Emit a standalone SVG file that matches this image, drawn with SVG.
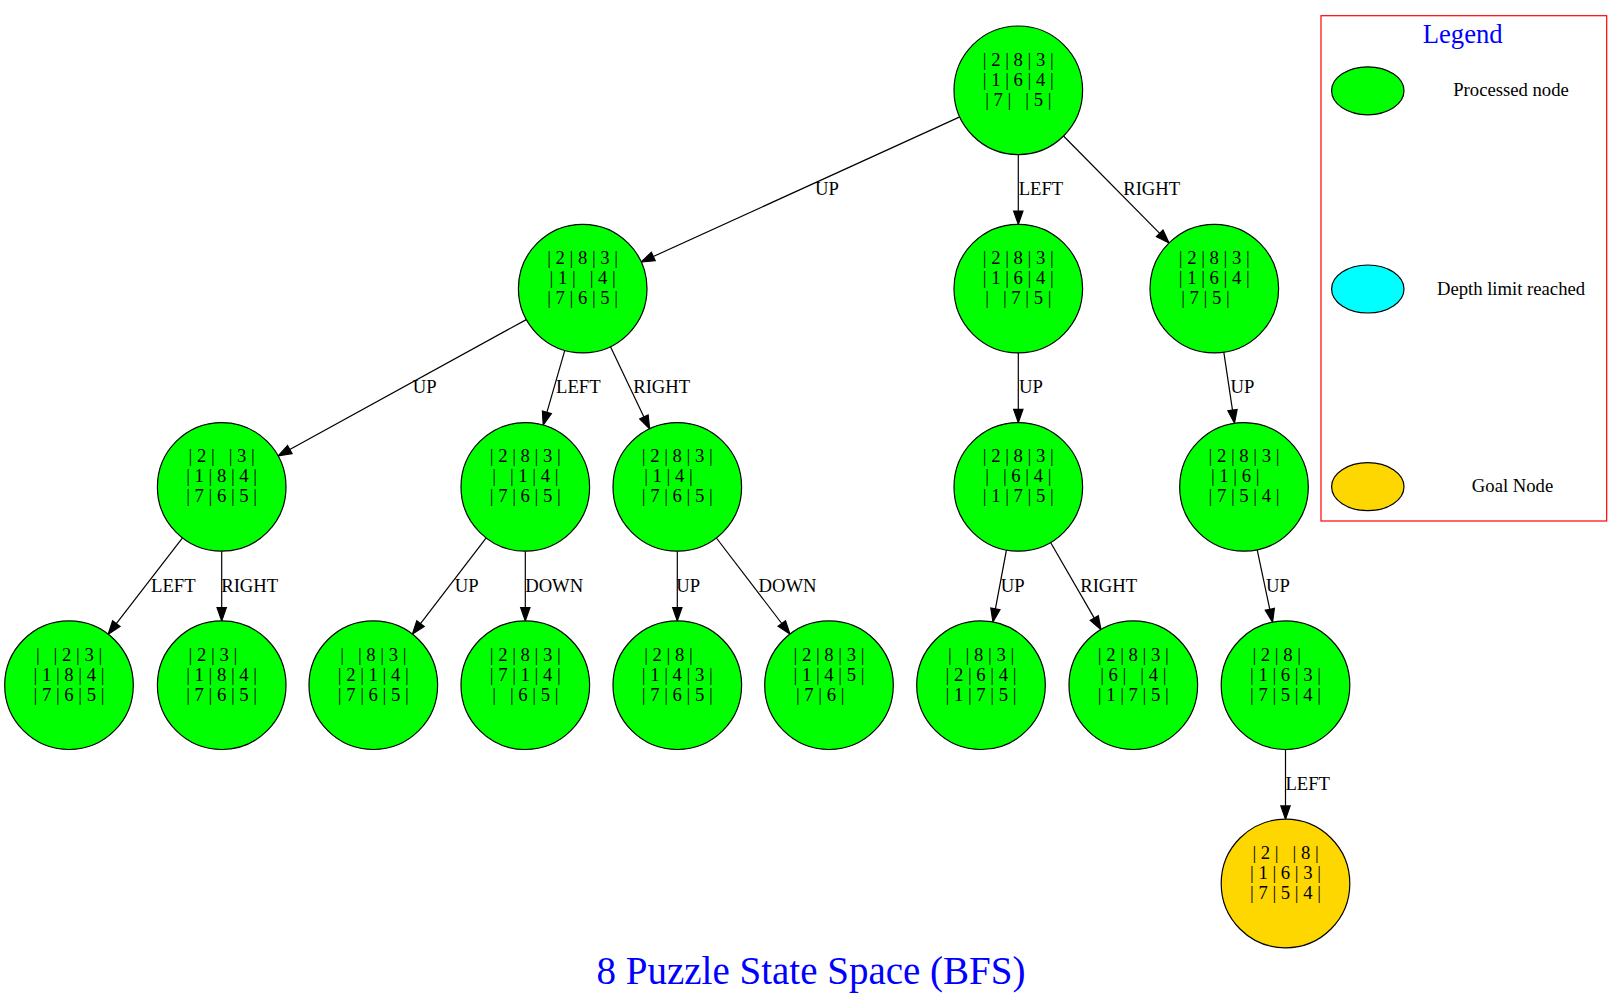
<svg xmlns="http://www.w3.org/2000/svg" width="1623" height="1008" viewBox="0 0 1623 1008" xml:space="preserve">
<style>
text { font-family: "Liberation Serif", "Times New Roman", serif; font-size: 18.67px; fill: #000; white-space: pre; }
.node circle { stroke: #000; stroke-width: 1.2; }
.proc { fill: #00ff00; }
.goal { fill: #ffd700; }
.depth { fill: #00ffff; }
.edges line { stroke: #000; stroke-width: 1.2; }
.edges text { text-anchor: middle; }
.leg ellipse { stroke: #000; stroke-width: 1.2; }
.leg text { text-anchor: middle; }
</style>
<defs>
<marker id="arr" markerUnits="userSpaceOnUse" markerWidth="16" markerHeight="12" refX="0" refY="6" orient="auto" overflow="visible">
<path d="M0,1.33 L13.33,6 L0,10.67 Z" fill="#000" stroke="#000" stroke-width="1.2"/>
</marker>
</defs>
<rect x="0" y="0" width="1623" height="1008" fill="#fff"/>
<g id="edges" class="edges">
<line x1="959.8" y1="116.9" x2="653.3" y2="256.5" marker-end="url(#arr)"/>
<line x1="1018.3" y1="154.6" x2="1018.3" y2="211.0" marker-end="url(#arr)"/>
<line x1="1063.5" y1="136.0" x2="1159.7" y2="233.4" marker-end="url(#arr)"/>
<line x1="526.3" y1="319.6" x2="289.8" y2="449.5" marker-end="url(#arr)"/>
<line x1="564.8" y1="350.4" x2="546.9" y2="412.3" marker-end="url(#arr)"/>
<line x1="610.4" y1="346.6" x2="643.9" y2="416.9" marker-end="url(#arr)"/>
<line x1="1018.3" y1="352.9" x2="1018.3" y2="409.3" marker-end="url(#arr)"/>
<line x1="1223.8" y1="352.2" x2="1232.5" y2="410.1" marker-end="url(#arr)"/>
<line x1="182.5" y1="537.8" x2="116.3" y2="623.7" marker-end="url(#arr)"/>
<line x1="221.7" y1="551.2" x2="221.7" y2="607.6" marker-end="url(#arr)"/>
<line x1="486.2" y1="537.9" x2="420.5" y2="623.6" marker-end="url(#arr)"/>
<line x1="525.3" y1="551.2" x2="525.3" y2="607.6" marker-end="url(#arr)"/>
<line x1="677.3" y1="551.2" x2="677.3" y2="607.6" marker-end="url(#arr)"/>
<line x1="716.4" y1="538.0" x2="781.8" y2="623.5" marker-end="url(#arr)"/>
<line x1="1006.4" y1="550.1" x2="995.4" y2="608.9" marker-end="url(#arr)"/>
<line x1="1050.6" y1="542.5" x2="1094.3" y2="618.1" marker-end="url(#arr)"/>
<line x1="1257.2" y1="549.8" x2="1269.8" y2="609.3" marker-end="url(#arr)"/>
<line x1="1285.5" y1="749.5" x2="1285.5" y2="805.9" marker-end="url(#arr)"/>
<text x="827" y="194.5">UP</text>
<text x="1041" y="194.5">LEFT</text>
<text x="1151.7" y="194.5">RIGHT</text>
<text x="424.7" y="393">UP</text>
<text x="578.3" y="393">LEFT</text>
<text x="661.7" y="393">RIGHT</text>
<text x="1031" y="393">UP</text>
<text x="1242.5" y="393">UP</text>
<text x="173.3" y="591.5">LEFT</text>
<text x="249.7" y="591.5">RIGHT</text>
<text x="466.7" y="591.5">UP</text>
<text x="554.2" y="591.5">DOWN</text>
<text x="688.3" y="591.5">UP</text>
<text x="787.5" y="591.5">DOWN</text>
<text x="1012.8" y="591.5">UP</text>
<text x="1108.7" y="591.5">RIGHT</text>
<text x="1278" y="591.5">UP</text>
<text x="1307.7" y="790">LEFT</text>
</g>
<g id="n_root" class="node"><circle class="proc" cx="1018.3" cy="90.3" r="64.3"/>
<text x="982.8" y="65.8">| 2 | 8 | 3 |</text><text x="982.8" y="85.8">| 1 | 6 | 4 |</text><text x="985.2" y="105.8">| 7 |   | 5 |</text></g>
<g id="n_a" class="node"><circle class="proc" cx="582.7" cy="288.6" r="64.3"/>
<text x="547.2" y="264.1">| 2 | 8 | 3 |</text><text x="549.6" y="284.1">| 1 |   | 4 |</text><text x="547.2" y="304.1">| 7 | 6 | 5 |</text></g>
<g id="n_b" class="node"><circle class="proc" cx="1018.3" cy="288.6" r="64.3"/>
<text x="982.8" y="264.1">| 2 | 8 | 3 |</text><text x="982.8" y="284.1">| 1 | 6 | 4 |</text><text x="985.2" y="304.1">|   | 7 | 5 |</text></g>
<g id="n_c" class="node"><circle class="proc" cx="1214.3" cy="288.6" r="64.3"/>
<text x="1178.8" y="264.1">| 2 | 8 | 3 |</text><text x="1178.8" y="284.1">| 1 | 6 | 4 |</text><text x="1181.2" y="304.1">| 7 | 5 |</text></g>
<g id="n_d" class="node"><circle class="proc" cx="221.7" cy="486.9" r="64.3"/>
<text x="188.6" y="462.4">| 2 |   | 3 |</text><text x="186.2" y="482.4">| 1 | 8 | 4 |</text><text x="186.2" y="502.4">| 7 | 6 | 5 |</text></g>
<g id="n_e" class="node"><circle class="proc" cx="525.3" cy="486.9" r="64.3"/>
<text x="489.8" y="462.4">| 2 | 8 | 3 |</text><text x="492.2" y="482.4">|   | 1 | 4 |</text><text x="489.8" y="502.4">| 7 | 6 | 5 |</text></g>
<g id="n_f" class="node"><circle class="proc" cx="677.3" cy="486.9" r="64.3"/>
<text x="641.8" y="462.4">| 2 | 8 | 3 |</text><text x="644.2" y="482.4">| 1 | 4 |</text><text x="641.8" y="502.4">| 7 | 6 | 5 |</text></g>
<g id="n_g" class="node"><circle class="proc" cx="1018.3" cy="486.9" r="64.3"/>
<text x="982.8" y="462.4">| 2 | 8 | 3 |</text><text x="985.2" y="482.4">|   | 6 | 4 |</text><text x="982.8" y="502.4">| 1 | 7 | 5 |</text></g>
<g id="n_h" class="node"><circle class="proc" cx="1244" cy="486.9" r="64.3"/>
<text x="1208.5" y="462.4">| 2 | 8 | 3 |</text><text x="1210.9" y="482.4">| 1 | 6 |</text><text x="1208.5" y="502.4">| 7 | 5 | 4 |</text></g>
<g id="n_i" class="node"><circle class="proc" cx="69" cy="685.2" r="64.3"/>
<text x="35.9" y="660.7">|   | 2 | 3 |</text><text x="33.5" y="680.7">| 1 | 8 | 4 |</text><text x="33.5" y="700.7">| 7 | 6 | 5 |</text></g>
<g id="n_j" class="node"><circle class="proc" cx="221.7" cy="685.2" r="64.3"/>
<text x="188.6" y="660.7">| 2 | 3 |</text><text x="186.2" y="680.7">| 1 | 8 | 4 |</text><text x="186.2" y="700.7">| 7 | 6 | 5 |</text></g>
<g id="n_k" class="node"><circle class="proc" cx="373.3" cy="685.2" r="64.3"/>
<text x="340.2" y="660.7">|   | 8 | 3 |</text><text x="337.8" y="680.7">| 2 | 1 | 4 |</text><text x="337.8" y="700.7">| 7 | 6 | 5 |</text></g>
<g id="n_l" class="node"><circle class="proc" cx="525.3" cy="685.2" r="64.3"/>
<text x="489.8" y="660.7">| 2 | 8 | 3 |</text><text x="489.8" y="680.7">| 7 | 1 | 4 |</text><text x="492.2" y="700.7">|   | 6 | 5 |</text></g>
<g id="n_m" class="node"><circle class="proc" cx="677.3" cy="685.2" r="64.3"/>
<text x="644.2" y="660.7">| 2 | 8 |</text><text x="641.8" y="680.7">| 1 | 4 | 3 |</text><text x="641.8" y="700.7">| 7 | 6 | 5 |</text></g>
<g id="n_n" class="node"><circle class="proc" cx="829" cy="685.2" r="64.3"/>
<text x="793.5" y="660.7">| 2 | 8 | 3 |</text><text x="793.5" y="680.7">| 1 | 4 | 5 |</text><text x="795.9" y="700.7">| 7 | 6 |</text></g>
<g id="n_o" class="node"><circle class="proc" cx="981" cy="685.2" r="64.3"/>
<text x="947.9" y="660.7">|   | 8 | 3 |</text><text x="945.5" y="680.7">| 2 | 6 | 4 |</text><text x="945.5" y="700.7">| 1 | 7 | 5 |</text></g>
<g id="n_p" class="node"><circle class="proc" cx="1133.3" cy="685.2" r="64.3"/>
<text x="1097.8" y="660.7">| 2 | 8 | 3 |</text><text x="1100.2" y="680.7">| 6 |   | 4 |</text><text x="1097.8" y="700.7">| 1 | 7 | 5 |</text></g>
<g id="n_q" class="node"><circle class="proc" cx="1285.5" cy="685.2" r="64.3"/>
<text x="1252.4" y="660.7">| 2 | 8 |</text><text x="1250" y="680.7">| 1 | 6 | 3 |</text><text x="1250" y="700.7">| 7 | 5 | 4 |</text></g>
<g id="n_goal" class="node"><circle class="goal" cx="1285.5" cy="883.5" r="64.3"/>
<text x="1252.4" y="859">| 2 |   | 8 |</text><text x="1250" y="879">| 1 | 6 | 3 |</text><text x="1250" y="899">| 7 | 5 | 4 |</text></g>
<g id="legend" class="leg">
<rect x="1321" y="15.7" width="285.7" height="505.3" fill="none" stroke="#ff0000" stroke-width="1.2"/>
<text x="1462.7" y="43.3" style="font-size:26.67px;fill:#0000ff">Legend</text>
<ellipse class="proc" cx="1367.8" cy="90.8" rx="36.2" ry="24"/>
<text x="1511" y="96.3">Processed node</text>
<ellipse class="depth" cx="1367.8" cy="289" rx="36.2" ry="24"/>
<text x="1511" y="294.5">Depth limit reached</text>
<ellipse class="goal" cx="1367.8" cy="486.7" rx="36.2" ry="24"/>
<text x="1512.5" y="492">Goal Node</text>
</g>
<text id="title" x="811" y="984" style="font-size:39px;fill:#0000ff;text-anchor:middle">8 Puzzle State Space (BFS)</text>
</svg>
